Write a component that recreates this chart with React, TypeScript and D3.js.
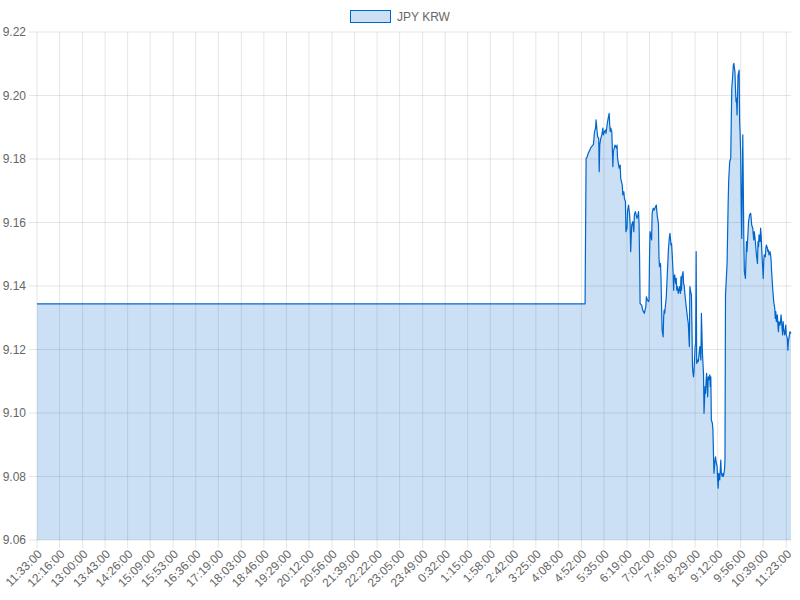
import React from "react";
import * as d3 from "d3";

const seriesName = "JPY KRW";

const yTickValues = [9.06, 9.08, 9.1, 9.12, 9.14, 9.16, 9.18, 9.2, 9.22];

const xTickLabels = [
  "11:33:00", "12:16:00", "13:00:00", "13:43:00", "14:26:00", "15:09:00", "15:53:00",
  "16:36:00", "17:19:00", "18:03:00", "18:46:00", "19:29:00", "20:12:00", "20:56:00",
  "21:39:00", "22:22:00", "23:05:00", "23:49:00", "0:32:00", "1:15:00", "1:58:00",
  "2:42:00", "3:25:00", "4:08:00", "4:52:00", "5:35:00", "6:19:00", "7:02:00",
  "7:45:00", "8:29:00", "9:12:00", "9:56:00", "10:39:00", "11:23:00",
];

const startTime = "11:33";
const endTime = "11:32";

const series: [string, number][] = [
  ["11:33", 9.1344], ["4:59", 9.1344], ["5:00", 9.1583], ["5:01", 9.1803], ["5:03", 9.1807],
  ["5:05", 9.1818], ["5:08", 9.1828], ["5:10", 9.1836], ["5:13", 9.1842], ["5:15", 9.1846],
  ["5:17", 9.1886], ["5:19", 9.1897], ["5:20", 9.1923], ["5:22", 9.1886], ["5:23", 9.187],
  ["5:25", 9.1865], ["5:26", 9.176], ["5:27", 9.1844], ["5:29", 9.1865], ["5:31", 9.1876],
  ["5:33", 9.1897], ["5:34", 9.1876], ["5:36", 9.1886], ["5:38", 9.1891], ["5:39", 9.1881],
  ["5:41", 9.1907], ["5:43", 9.1928], ["5:45", 9.1944], ["5:46", 9.1907], ["5:47", 9.1886],
  ["5:48", 9.1897], ["5:50", 9.1886], ["5:51", 9.1834], ["5:52", 9.1776], ["5:53", 9.1823],
  ["5:56", 9.1844], ["5:59", 9.1834], ["6:00", 9.1844], ["6:01", 9.1802], ["6:04", 9.1771],
  ["6:06", 9.1781], ["6:07", 9.1739], ["6:10", 9.1718], ["6:11", 9.1687], ["6:13", 9.1697],
  ["6:14", 9.1676], ["6:16", 9.1666], ["6:17", 9.1571], ["6:19", 9.1582], ["6:20", 9.1634],
  ["6:22", 9.1655], ["6:24", 9.1624], ["6:25", 9.1592], ["6:26", 9.1508], ["6:28", 9.1592],
  ["6:30", 9.1603], ["6:32", 9.1571], ["6:33", 9.1624], ["6:35", 9.1634], ["6:38", 9.1613],
  ["6:40", 9.1624], ["6:41", 9.1634], ["6:42", 9.1597], ["6:43", 9.1492], ["6:44", 9.1345],
  ["6:47", 9.134], ["6:49", 9.1324], ["6:52", 9.1314], ["6:55", 9.1335], ["6:56", 9.1366],
  ["6:58", 9.1356], ["7:00", 9.1351], ["7:01", 9.1356], ["7:02", 9.1492], ["7:03", 9.1571],
  ["7:05", 9.1555], ["7:06", 9.1545], ["7:07", 9.1629], ["7:09", 9.1645], ["7:11", 9.1639],
  ["7:14", 9.1652], ["7:15", 9.1655], ["7:16", 9.1634], ["7:17", 9.1618], ["7:19", 9.1597],
  ["7:20", 9.1492], ["7:21", 9.1461], ["7:23", 9.1471], ["7:24", 9.1419], ["7:25", 9.1335],
  ["7:26", 9.1261], ["7:28", 9.124], ["7:29", 9.1303], ["7:30", 9.1324], ["7:31", 9.1314],
  ["7:34", 9.1366], ["7:36", 9.144], ["7:38", 9.1513], ["7:40", 9.1555], ["7:41", 9.1566],
  ["7:43", 9.1529], ["7:44", 9.1534], ["7:45", 9.1508], ["7:47", 9.144], ["7:48", 9.1387],
  ["7:49", 9.1429], ["7:50", 9.1435], ["7:52", 9.1408], ["7:53", 9.1424], ["7:54", 9.1387],
  ["7:55", 9.1398], ["7:57", 9.1377], ["7:58", 9.1387], ["7:59", 9.1398], ["8:01", 9.1377],
  ["8:02", 9.1429], ["8:03", 9.1387], ["8:04", 9.1429], ["8:06", 9.1445], ["8:07", 9.1408],
  ["8:08", 9.1403], ["8:10", 9.1366], ["8:12", 9.1335], ["8:15", 9.1293], ["8:16", 9.1282],
  ["8:18", 9.1209], ["8:19", 9.1398], ["8:20", 9.1387], ["8:21", 9.1377], ["8:22", 9.1372],
  ["8:23", 9.1261], ["8:24", 9.1146], ["8:25", 9.1125], ["8:26", 9.1114], ["8:27", 9.1135],
  ["8:29", 9.1209], ["8:30", 9.1219], ["8:31", 9.1508], ["8:32", 9.1156], ["8:34", 9.1167],
  ["8:35", 9.1162], ["8:36", 9.1177], ["8:38", 9.1209], ["8:39", 9.1188], ["8:40", 9.1167],
  ["8:41", 9.1314], ["8:43", 9.1188], ["8:44", 9.1156], ["8:45", 9.1125], ["8:46", 9.0999],
  ["8:48", 9.1083], ["8:49", 9.1062], ["8:50", 9.1104], ["8:51", 9.1125], ["8:53", 9.1051],
  ["8:54", 9.1114], ["8:55", 9.1104], ["8:57", 9.112], ["8:58", 9.1083], ["8:59", 9.1114],
  ["9:00", 9.0978], ["9:02", 9.0967], ["9:03", 9.0946], ["9:04", 9.0873], ["9:05", 9.081],
  ["9:07", 9.0852], ["9:08", 9.0862], ["9:09", 9.0847], ["9:11", 9.0831], ["9:12", 9.0789],
  ["9:13", 9.0763], ["9:14", 9.081], ["9:16", 9.0789], ["9:17", 9.082], ["9:18", 9.0852],
  ["9:19", 9.081], ["9:21", 9.08], ["9:22", 9.081], ["9:23", 9.08], ["9:25", 9.082],
  ["9:26", 9.0852], ["9:27", 9.1372], ["9:30", 9.1471], ["9:32", 9.1655], ["9:33", 9.1729],
  ["9:35", 9.1792], ["9:37", 9.1802], ["9:38", 9.1918], ["9:39", 9.2023], ["9:40", 9.2044],
  ["9:42", 9.2096], ["9:43", 9.2101], ["9:44", 9.2086], ["9:45", 9.2075], ["9:46", 9.2023],
  ["9:47", 9.1981], ["9:48", 9.1991], ["9:49", 9.1939], ["9:50", 9.2002], ["9:51", 9.2065],
  ["9:53", 9.208], ["9:54", 9.1918], ["9:55", 9.1876], ["9:56", 9.1813], ["9:57", 9.1655],
  ["9:58", 9.155], ["10:00", 9.1876], ["10:01", 9.1708], ["10:02", 9.154], ["10:03", 9.1445],
  ["10:05", 9.1424], ["10:06", 9.1477], ["10:07", 9.154], ["10:08", 9.1508], ["10:10", 9.1571],
  ["10:11", 9.1603], ["10:13", 9.1624], ["10:15", 9.1629], ["10:16", 9.1613], ["10:17", 9.1592],
  ["10:19", 9.1582], ["10:20", 9.1561], ["10:21", 9.1545], ["10:22", 9.1571], ["10:24", 9.154],
  ["10:25", 9.1519], ["10:26", 9.1498], ["10:28", 9.1471], ["10:29", 9.154], ["10:30", 9.1524],
  ["10:31", 9.1561], ["10:33", 9.154], ["10:34", 9.1582], ["10:35", 9.1561], ["10:36", 9.1519],
  ["10:38", 9.1456], ["10:39", 9.1424], ["10:40", 9.1477], ["10:41", 9.1498], ["10:43", 9.1492],
  ["10:44", 9.1519], ["10:45", 9.1529], ["10:47", 9.1519], ["10:48", 9.1508], ["10:49", 9.1513],
  ["10:50", 9.1498], ["10:52", 9.1508], ["10:53", 9.1498], ["10:54", 9.1482], ["10:55", 9.1445],
  ["10:57", 9.1393], ["10:58", 9.1372], ["10:59", 9.1351], ["11:01", 9.133], ["11:02", 9.1298],
  ["11:03", 9.1319], ["11:04", 9.1288], ["11:06", 9.1309], ["11:07", 9.1277], ["11:08", 9.1256],
  ["11:09", 9.1288], ["11:11", 9.1277], ["11:12", 9.1288], ["11:13", 9.1309], ["11:15", 9.1267],
  ["11:16", 9.1246], ["11:17", 9.1288], ["11:18", 9.1267], ["11:20", 9.1246], ["11:21", 9.1256],
  ["11:22", 9.1277], ["11:23", 9.1246], ["11:25", 9.1235], ["11:26", 9.1198], ["11:27", 9.1225],
  ["11:29", 9.1246], ["11:30", 9.1256], ["11:32", 9.1251],
];

const W = 800;
const H = 600;
const plot = { left: 37, right: 791, top: 32, bottom: 540 };
const FONT = "'Liberation Sans', Arial, Helvetica, sans-serif";
const LINE = "#0066cc";
const FILL = "rgba(0, 102, 204, 0.2)";
const GRID = "rgba(0, 0, 0, 0.1)";
const TEXT = "#666";

function clockMinutes(t: string): number {
  const [h, m] = t.split(":").map(Number);
  return h * 60 + m;
}
const startClock = clockMinutes(startTime);
function offset(t: string): number {
  let o = clockMinutes(t) - startClock;
  if (o < 0) o += 1440;
  return o;
}

export default function App() {
  const x = d3
    .scaleLinear()
    .domain([0, offset(endTime)])
    .range([plot.left, plot.right]);
  const y = d3
    .scaleLinear()
    .domain([yTickValues[0], yTickValues[yTickValues.length - 1]])
    .range([plot.bottom, plot.top]);

  const pts = series.map(([t, v]) => ({ o: offset(t), v }));

  const area = d3
    .area<{ o: number; v: number }>()
    .x((d) => x(d.o))
    .y0(plot.bottom)
    .y1((d) => y(d.v));
  const line = d3
    .line<{ o: number; v: number }>()
    .x((d) => x(d.o))
    .y((d) => y(d.v));

  return (
    <svg
      width={W}
      height={H}
      style={{ position: "absolute", left: 0, top: 0 }}
      fontFamily={FONT}
    >
      <rect width={W} height={H} fill="#fff" />
      {/* horizontal grid */}
      {yTickValues.map((v) => (
        <line
          key={"h" + v}
          x1={plot.left - 8}
          x2={plot.right}
          y1={y(v)}
          y2={y(v)}
          stroke={GRID}
          strokeWidth={1}
        />
      ))}
      {/* vertical grid */}
      {xTickLabels.map((lab) => {
        const xx = x(offset(lab.slice(0, lab.lastIndexOf(":"))));
        return (
          <line
            key={"v" + lab}
            x1={xx}
            x2={xx}
            y1={plot.top}
            y2={plot.bottom + 8}
            stroke={GRID}
            strokeWidth={1}
          />
        );
      })}
      <path d={area(pts) ?? ""} fill={FILL} stroke="none" />
      <path d={line(pts) ?? ""} fill="none" stroke={LINE} strokeWidth={1.2} strokeLinejoin="round" />
      {/* y labels */}
      {yTickValues.map((v) => (
        <text
          key={"yl" + v}
          x={plot.left - 11}
          y={y(v)}
          textAnchor="end"
          dominantBaseline="central"
          fontSize={12}
          fill={TEXT}
        >
          {v.toFixed(2)}
        </text>
      ))}
      {/* x labels */}
      {xTickLabels.map((lab) => {
        const xx = x(offset(lab.slice(0, lab.lastIndexOf(":"))));
        return (
          <text
            key={"xl" + lab}
            transform={`translate(${xx + 3},${plot.bottom + 12}) rotate(-45)`}
            textAnchor="end"
            dominantBaseline="central"
            fontSize={12}
            fill={TEXT}
          >
            {lab}
          </text>
        );
      })}
      {/* legend */}
      <rect x={350.5} y={10.5} width={40} height={12} fill={FILL} stroke={LINE} strokeWidth={1} />
      <text x={397} y={16.5} dominantBaseline="central" fontSize={12} fill={TEXT}>
        {seriesName}
      </text>
    </svg>
  );
}
